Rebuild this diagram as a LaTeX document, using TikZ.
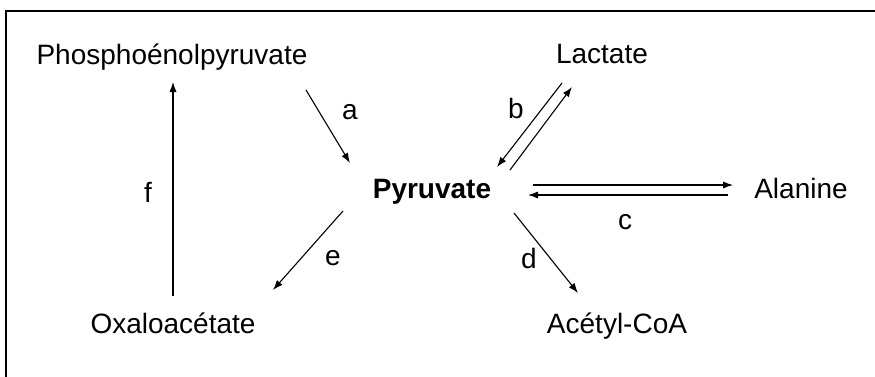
\documentclass[tikz,border=0pt]{standalone}
\usepackage{fontspec}
\setmainfont{Liberation Sans}
\usetikzlibrary{arrows.meta}

\begin{document}
\begin{tikzpicture}[x=0.5pt, y=-0.5pt,
    mol/.style={anchor=base, inner sep=0pt, font=\fontsize{14}{16}\selectfont},
    lbl/.style={inner sep=0pt, font=\fontsize{14}{16}\selectfont},
    rxn/.style={-{Latex[length=5pt,width=3.6pt]}, line width=0.55pt}]

  \useasboundingbox (0,0) rectangle (875,376);
  \clip (0,0) rectangle (875,376);
  \draw[line width=1.1pt] (6,11) rectangle (900,400);

  % Define nodes
  \node[mol] (pep)  at (172,64)  {Phosphoénolpyruvate};
  \node[mol] (lact) at (602,63)  {Lactate};
  \node[mol, font=\fontsize{14}{16}\selectfont\bfseries] (pyr) at (432,198) {Pyruvate};
  \node[mol] (ala)  at (801,198) {Alanine};
  \node[mol] (oaa)  at (173,333) {Oxaloacétate};
  \node[mol] (acoa) at (617,333) {Acétyl-CoA};

  % Connect the nodes
  \draw[rxn] ([shift={(134,26)}]pep.base) -- ([shift={(-82,-35)}]pyr.base);
  \draw[rxn] ([shift={(-40,20)}]lact.base) -- ([shift={(65,-31)}]pyr.base);
  \draw[rxn] ([shift={(78,-28)}]pyr.base) -- ([shift={(-30,24)}]lact.base);
  \draw[rxn] ([shift={(101,-13)}]pyr.base) -- ([shift={(-68,-13)}]ala.base);
  \draw[rxn] ([shift={(-73,-3)}]ala.base) -- ([shift={(96,-3)}]pyr.base);
  \draw[rxn] ([shift={(82,15)}]pyr.base) -- ([shift={(-39,-40)}]acoa.base);
  \draw[rxn] ([shift={(-89,13)}]pyr.base) -- ([shift={(100,-43)}]oaa.base);
  \draw[rxn] ([shift={(0,-37)}]oaa.base) -- ([shift={(1,18)}]pep.base);

  % Enzyme labels
  \node[lbl] (la) at (350,112) {a};
  \node[lbl] (lb) at (516,108) {b};
  \node[lbl] (lc) at (625,222) {c};
  \node[lbl] (ld) at (529,258) {d};
  \node[lbl] (le) at (333,258) {e};
  \node[lbl] (lf) at (148,192) {f};

\end{tikzpicture}
\end{document}
